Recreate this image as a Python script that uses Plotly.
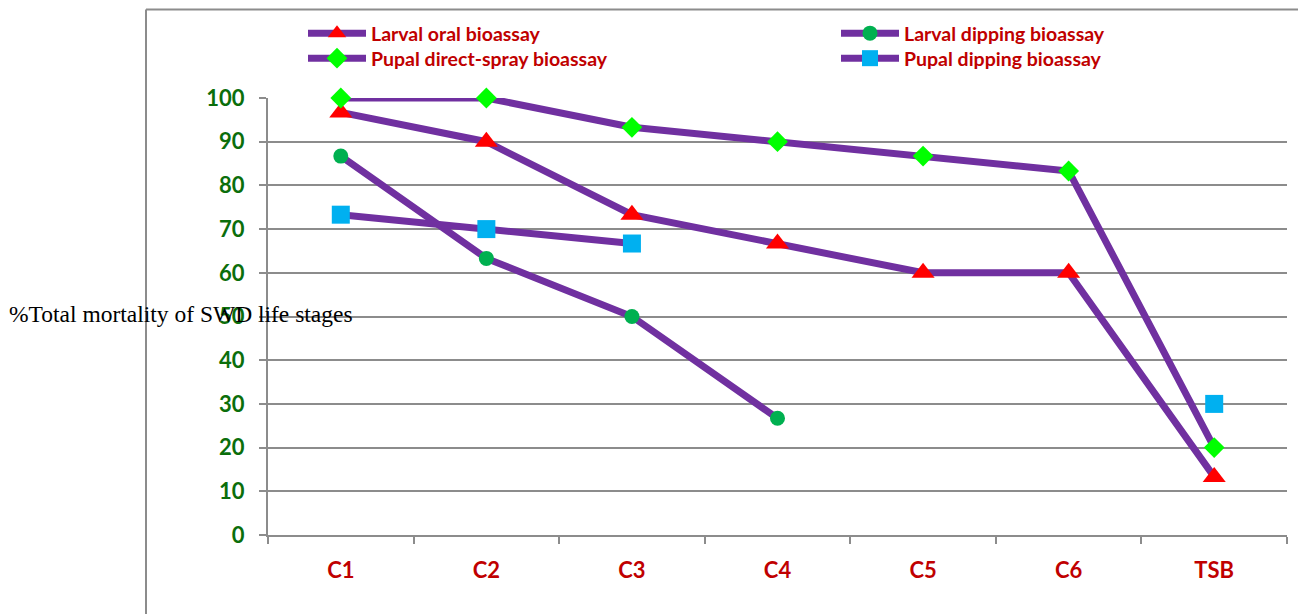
import plotly.graph_objects as go

# Treatments on the category axis
categories = ["C1", "C2", "C3", "C4", "C5", "C6", "TSB"]

# % total mortality per bioassay (None = not tested)
larval_oral = [96.7, 90, 73.3, 66.7, 60, 60, 13.3]
larval_dipping = [86.7, 63.3, 50, 26.7, None, None, None]
pupal_spray = [100, 100, 93.3, 90, 86.7, 83.3, 20]
pupal_dipping = [73.3, 70, 66.7, None, None, None, 30]

y_ticks = [0, 10, 20, 30, 40, 50, 60, 70, 80, 90, 100]

LINE = "#7030A0"
GRID = "#8C8C8C"
RED_TXT = "#C00000"
GREEN_TXT = "#0B6E0B"

W, H = 1298, 614
ML, MR, MT, MB = 268, 11, 98, 79
PW = W - ML - MR
PH = H - MT - MB


def px_x(px):
    return (px - ML) / PW


def px_y(py):
    return (H - MB - py) / PH


# name, values, marker symbol, marker size, marker colour, legend id, legend (left, top) in px
series = [
    ("Larval oral bioassay", larval_oral, "triangle-up", 20, "#FF0000", "legend", (303, 14)),
    ("Larval dipping bioassay", larval_dipping, "circle", 15, "#00B050", "legend2", (836, 14)),
    ("Pupal direct-spray bioassay", pupal_spray, "diamond", 16, "#00FF00", "legend3", (303, 39)),
    ("Pupal dipping bioassay", pupal_dipping, "square", 18, "#00B0F0", "legend4", (836, 39)),
]

legend_font = dict(family="Lato", size=19.5, color=RED_TXT, weight="bold")

fig = go.Figure()
legends = {}
for name, vals, sym, size, col, lg, (lx, ly) in series:
    fig.add_trace(go.Scatter(
        x=categories, y=vals, name=name, mode="lines+markers",
        connectgaps=False, cliponaxis=False, legend=lg,
        line=dict(color=LINE, width=7),
        marker=dict(symbol=sym, size=size, color=col, line=dict(width=0)),
    ))
    legends[lg] = dict(x=px_x(lx), y=px_y(ly), xanchor="left", yanchor="top",
                       font=legend_font, itemwidth=58,
                       bgcolor="rgba(0,0,0,0)")

fig.update_layout(
    width=W, height=H,
    margin=dict(l=ML, r=MR, t=MT, b=MB),
    paper_bgcolor="white", plot_bgcolor="white",
    showlegend=True,
    **legends,
    xaxis=dict(
        type="category", range=[-0.5, 6.5],
        showgrid=False, showline=True, linecolor=GRID, linewidth=2,
        ticks="outside", ticklen=7, tickcolor=GRID, tickwidth=2,
        tickson="boundaries",
        tickfont=dict(family="Lato", size=22, color=RED_TXT, weight="bold"),
        ticklabelstandoff=15,
    ),
    yaxis=dict(
        range=[0, 100], tickvals=y_ticks,
        showgrid=True, gridcolor=GRID, gridwidth=2,
        showline=True, linecolor=GRID, linewidth=2,
        ticks="outside", ticklen=7, tickcolor=GRID, tickwidth=2,
        zeroline=False,
        tickfont=dict(family="Lato", size=22, color=GREEN_TXT, weight="bold"),
        ticklabelstandoff=10,
    ),
    shapes=[
        dict(type="line", xref="paper", yref="paper",
             x0=px_x(146), x1=px_x(1310), y0=px_y(9.5), y1=px_y(9.5),
             line=dict(color=GRID, width=2)),
        dict(type="line", xref="paper", yref="paper",
             x0=px_x(146), x1=px_x(146), y0=px_y(9.5), y1=px_y(620),
             line=dict(color=GRID, width=2)),
    ],
    annotations=[
        dict(text="%Total mortality of SWD life stages", xref="paper", yref="paper",
             x=px_x(7), y=px_y(314), xanchor="left", yanchor="middle",
             showarrow=False,
             font=dict(family="Liberation Serif", size=23.5, color="black")),
    ],
)

fig.write_html("out.html")
